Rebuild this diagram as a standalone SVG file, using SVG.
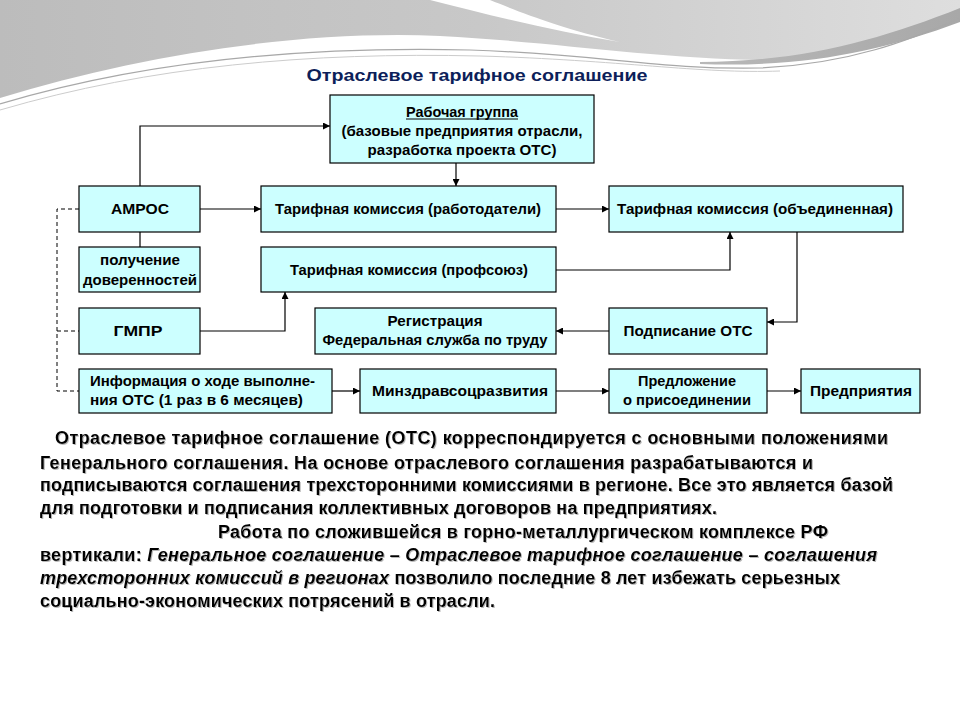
<svg xmlns="http://www.w3.org/2000/svg" width="960" height="720" viewBox="0 0 960 720">
<defs>
<linearGradient id="gL" x1="0" y1="0" x2="1" y2="0">
<stop offset="0" stop-color="#bcbcbc"/><stop offset="0.5" stop-color="#c8c8c8"/><stop offset="1" stop-color="#dedede"/>
</linearGradient>
<linearGradient id="gR" x1="0" y1="0" x2="1" y2="0">
<stop offset="0" stop-color="#b8b8b8"/><stop offset="1" stop-color="#a8a8a8"/>
</linearGradient>
<marker id="ah" viewBox="0 0 10 10" refX="10" refY="5" markerWidth="7" markerHeight="7" markerUnits="userSpaceOnUse" orient="auto">
<path d="M0,0 L10,5 L0,10 Z" fill="#000"/>
</marker>
<filter id="sh" x="-5%" y="-20%" width="110%" height="140%">
<feDropShadow dx="1" dy="1" stdDeviation="0.6" flood-color="#888" flood-opacity="0.6"/>
</filter>
<style>
.box{fill:#ccffff;stroke:#000;stroke-width:1.2}
.lbl{font-family:"Liberation Sans",Arial,sans-serif;font-weight:bold;font-size:14px;fill:#000;text-anchor:middle}
.lft{text-anchor:start}
.con{fill:none;stroke:#000;stroke-width:1.2}
.dash{fill:none;stroke:#000;stroke-width:1;stroke-dasharray:4,3}
.par{font-family:"Liberation Sans",Arial,sans-serif;font-weight:bold;font-size:18px;fill:#000}
.it{font-style:italic}
</style>
</defs>
<rect width="960" height="720" fill="#fff"/>
<g id="background">
<path d="M0,0 H960 V12 C900,40 850,58 780,60 C660,60 560,42 440,36 C300,30 140,55 0,98 Z" fill="url(#gL)"/>
<path d="M430,0 H490 C520,12 560,28 620,42 C560,32 500,18 430,0 Z" fill="#fff"/>
<path d="M700,62 C800,62 880,40 960,8 V22 C880,52 800,68 700,64 Z" fill="url(#gR)"/>
<path d="M0,104 C140,62 300,46 470,50 C600,54 660,70 760,68 C850,64 910,40 960,18" fill="none" stroke="#a8a8a8" stroke-width="1.2"/>
<path d="M0,110 C150,66 310,52 480,56 C620,60 700,74 780,71" fill="none" stroke="#cccccc" stroke-width="1"/>
</g>
<text x="477" y="81" font-family="'Liberation Sans',Arial,sans-serif" font-weight="bold" font-size="17" fill="#0d1f5a" text-anchor="middle" textLength="341" lengthAdjust="spacingAndGlyphs">Отраслевое тарифное соглашение</text>

<g id="connectors">
<polyline class="con" points="140,186 140,126 330,126" marker-end="url(#ah)"/>
<line class="con" x1="456" y1="163" x2="456" y2="186" marker-end="url(#ah)"/>
<line class="con" x1="200" y1="209" x2="261" y2="209" marker-end="url(#ah)"/>
<line class="con" x1="556" y1="209" x2="609" y2="209" marker-end="url(#ah)"/>
<line class="con" x1="140" y1="232" x2="140" y2="247"/>
<polyline class="con" points="556,270 730,270 730,232" marker-end="url(#ah)"/>
<polyline class="con" points="200,331 285,331 285,292" marker-end="url(#ah)"/>
<polyline class="con" points="797,232 797,322 767,322" marker-end="url(#ah)"/>
<line class="con" x1="609" y1="331" x2="556" y2="331" marker-end="url(#ah)"/>
<line class="con" x1="332" y1="391" x2="360" y2="391" marker-end="url(#ah)"/>
<line class="con" x1="556" y1="391" x2="609" y2="391" marker-end="url(#ah)"/>
<line class="con" x1="767" y1="391" x2="801" y2="391" marker-end="url(#ah)"/>
<polyline class="dash" points="79,209 57,209 57,391 79,391"/>
<line class="dash" x1="57" y1="331" x2="79" y2="331"/>
</g>

<g id="rabochaya">
<rect class="box" x="330" y="95" width="264" height="68"/>
<text class="lbl" x="462" y="117" textLength="112" lengthAdjust="spacingAndGlyphs">Рабочая группа</text>
<line x1="406" y1="119" x2="518" y2="119" stroke="#000" stroke-width="1"/>
<text class="lbl" x="462" y="136" textLength="241" lengthAdjust="spacingAndGlyphs">(базовые предприятия отрасли,</text>
<text class="lbl" x="462" y="155" textLength="189" lengthAdjust="spacingAndGlyphs">разработка проекта ОТС)</text>
</g>
<g id="amros">
<rect class="box" x="79" y="186" width="121" height="46"/>
<text class="lbl" x="140" y="214" textLength="58" lengthAdjust="spacingAndGlyphs">АМРОС</text>
</g>
<g id="tk-rab">
<rect class="box" x="261" y="186" width="295" height="46"/>
<text class="lbl" x="408" y="214" textLength="266" lengthAdjust="spacingAndGlyphs">Тарифная комиссия (работодатели)</text>
</g>
<g id="tk-obj">
<rect class="box" x="609" y="186" width="294" height="46"/>
<text class="lbl" x="755" y="214" textLength="276" lengthAdjust="spacingAndGlyphs">Тарифная комиссия (объединенная)</text>
</g>
<g id="doverennosti">
<rect class="box" x="79" y="247" width="121" height="45"/>
<text class="lbl" x="140" y="265" textLength="80" lengthAdjust="spacingAndGlyphs">получение</text>
<text class="lbl" x="140" y="285" textLength="114" lengthAdjust="spacingAndGlyphs">доверенностей</text>
</g>
<g id="tk-prof">
<rect class="box" x="261" y="247" width="295" height="45"/>
<text class="lbl" x="409" y="275" textLength="238" lengthAdjust="spacingAndGlyphs">Тарифная комиссия (профсоюз)</text>
</g>
<g id="gmpr">
<rect class="box" x="79" y="308" width="121" height="46"/>
<text class="lbl" x="138" y="336" textLength="49" lengthAdjust="spacingAndGlyphs">ГМПР</text>
</g>
<g id="registraciya">
<rect class="box" x="315" y="308" width="241" height="46"/>
<text class="lbl" x="435" y="326" textLength="95" lengthAdjust="spacingAndGlyphs">Регистрация</text>
<text class="lbl" x="435" y="345" textLength="225" lengthAdjust="spacingAndGlyphs">Федеральная служба по труду</text>
</g>
<g id="podpisanie">
<rect class="box" x="609" y="308" width="158" height="46"/>
<text class="lbl" x="688" y="336" textLength="129" lengthAdjust="spacingAndGlyphs">Подписание ОТС</text>
</g>
<g id="informaciya">
<rect class="box" x="79" y="369" width="253" height="44"/>
<text class="lbl lft" x="90" y="386" textLength="225" lengthAdjust="spacingAndGlyphs">Информация о ходе выполне-</text>
<text class="lbl lft" x="90" y="405" textLength="213" lengthAdjust="spacingAndGlyphs">ния ОТС (1 раз в 6 месяцев)</text>
</g>
<g id="minzdrav">
<rect class="box" x="360" y="369" width="196" height="44"/>
<text class="lbl" x="460" y="396" textLength="176" lengthAdjust="spacingAndGlyphs">Минздравсоцразвития</text>
</g>
<g id="predlozhenie">
<rect class="box" x="609" y="369" width="158" height="44"/>
<text class="lbl" x="687" y="386" textLength="98" lengthAdjust="spacingAndGlyphs">Предложение</text>
<text class="lbl" x="687" y="405" textLength="128" lengthAdjust="spacingAndGlyphs">о присоединении</text>
</g>
<g id="predpriyatiya">
<rect class="box" x="801" y="369" width="119" height="44"/>
<text class="lbl" x="861" y="396" textLength="102" lengthAdjust="spacingAndGlyphs">Предприятия</text>
</g>

<g id="paragraph" filter="url(#sh)">
<text class="par" x="55" y="444" textLength="833" lengthAdjust="spacing">Отраслевое тарифное соглашение (ОТС) корреспондируется с основными положениями</text>
<text class="par" x="40" y="469" textLength="773" lengthAdjust="spacing">Генерального соглашения. На основе отраслевого соглашения разрабатываются и</text>
<text class="par" x="40" y="491" textLength="853" lengthAdjust="spacing">подписываются соглашения трехсторонними комиссиями в регионе. Все это является базой</text>
<text class="par" x="40" y="514" textLength="677" lengthAdjust="spacing">для подготовки и подписания коллективных договоров на предприятиях.</text>
<text class="par" x="218" y="538" textLength="610" lengthAdjust="spacing">Работа по сложившейся в горно-металлургическом комплексе РФ</text>
<text class="par" x="40" y="561" textLength="837" lengthAdjust="spacing">вертикали: <tspan class="it">Генеральное соглашение – Отраслевое тарифное соглашение – соглашения</tspan></text>
<text class="par" x="40" y="584" textLength="800" lengthAdjust="spacing"><tspan class="it">трехсторонних комиссий в регионах</tspan> позволило последние 8 лет избежать серьезных</text>
<text class="par" x="40" y="607" textLength="455" lengthAdjust="spacing">социально-экономических потрясений в отрасли.</text>
</g>
</svg>
